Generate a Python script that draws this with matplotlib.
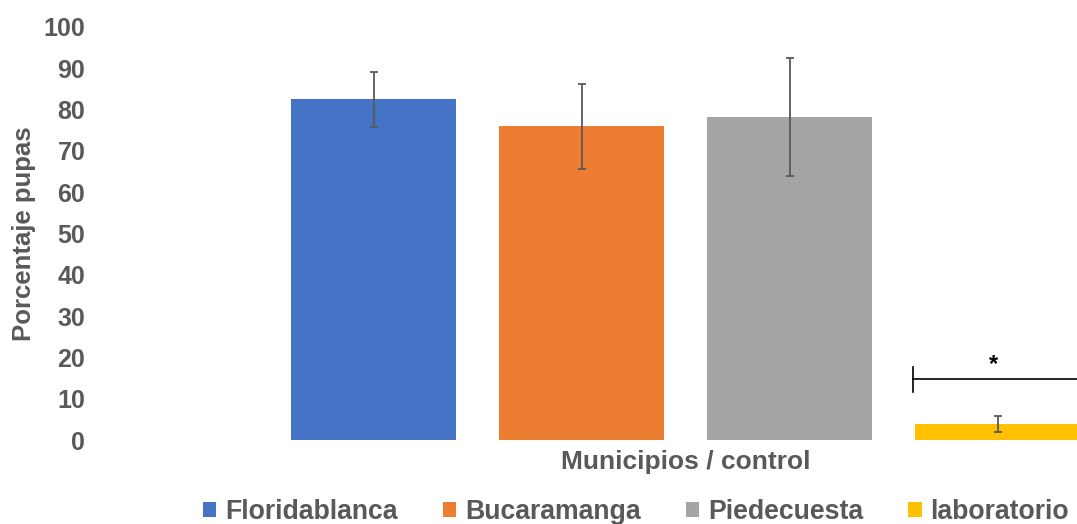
import numpy as np
import matplotlib.pyplot as plt
from matplotlib.patches import Patch

plt.rcParams['font.family'] = ['Liberation Sans', 'DejaVu Sans']

# Percentage of pupae per municipality and lab control
grupos = ['Floridablanca', 'Bucaramanga', 'Piedecuesta', 'laboratorio']
porcentaje = [82.5, 76.0, 78.2, 3.9]
error = [6.7, 10.3, 14.2, 2.0]
colores = ['#4472C4', '#ED7D31', '#A5A5A5', '#FFC000']

gris = '#595959'
W, H = 1077, 524
fig = plt.figure(figsize=(W / 100, H / 100), dpi=100)
ax = fig.add_axes([95 / W, (H - 440) / H, (W - 95) / W, 413 / H])

x = np.arange(len(grupos))
ancho = 0.793
ax.bar(x, porcentaje, width=ancho, color=colores, zorder=2)
ax.errorbar(x, porcentaje, yerr=error, fmt='none', ecolor=gris,
            elinewidth=1.3, capsize=2.8, capthick=1.3, zorder=3)

ax.set_xlim(-1.339, 3.382)
ax.set_ylim(0, 100)
ax.set_yticks(np.arange(0, 101, 10))
ax.set_xticks([])
for s in ax.spines.values():
    s.set_visible(False)
ax.tick_params(axis='y', length=0, pad=7, labelsize=18, labelcolor=gris)
for t in ax.get_yticklabels():
    t.set_fontweight('bold')

ax.set_ylabel('Porcentaje pupas', fontsize=18.5, fontweight='bold', color=gris)
ax.yaxis.set_label_coords(-(95 - 36) / (W - 95), 0.5)
ax.set_xlabel('Municipios / control', fontsize=19, fontweight='bold', color=gris)
ax.xaxis.set_label_coords((686 - 95) / (W - 95), -10 / 413)

# significance bracket over the lab control
x0 = x[3] - ancho / 2 - 0.01
ax.plot([x0, 3.382], [14.8, 14.8], color='black', lw=1.2, clip_on=False, zorder=4)
ax.plot([x0, x0], [11.6, 17.7], color='black', lw=1.2, zorder=4)
ax.text(x[3] - 0.02, 18.3, '*', ha='center', va='center', fontsize=17,
        fontweight='bold', color='black')

handles = [Patch(facecolor=c) for c in colores]
fig.legend(handles, grupos, loc='center', bbox_to_anchor=(636 / W, 1 - 512 / H),
           ncol=4, frameon=False, handlelength=0.49, handleheight=0.49,
           handletextpad=0.34, columnspacing=1.7,
           prop={'size': 19.2, 'weight': 'bold'}, labelcolor=gris)

fig.savefig('out.png', dpi=100)
